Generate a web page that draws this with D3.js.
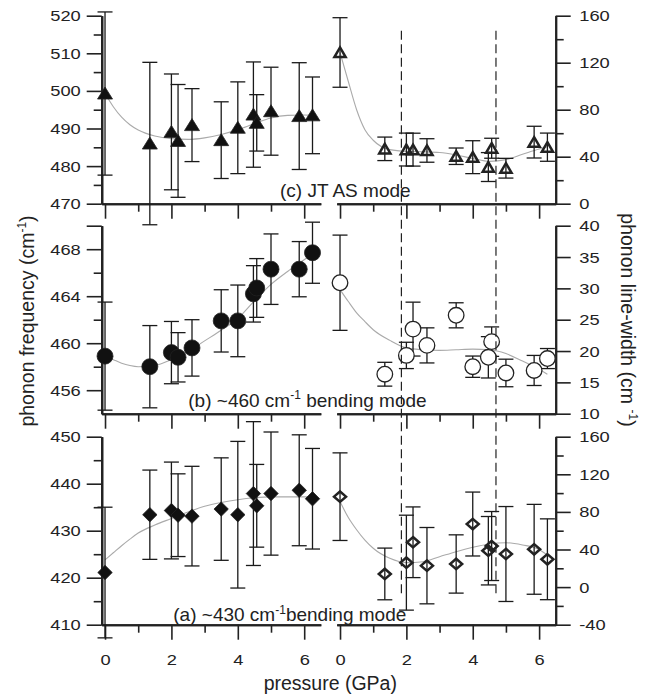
<!DOCTYPE html>
<html>
<head>
<meta charset="utf-8">
<script src="https://cdn.jsdelivr.net/npm/d3@7"></script>
<style>
  body { margin: 0; background: #fff; }
  svg text { font-family: "Liberation Sans", Arial, Helvetica, sans-serif; fill: #222; }
  .tick text { font-size: 15.5px; }
  .tick line { stroke: #222; stroke-width: 1.6; }
  .domain { stroke: #222; stroke-width: 2; }
</style>
</head>
<body>
<div id="chart"></div>
<script>

// pressure of each measurement (GPa), shared by all six series
let pressure = [0, 1.35, 2.0, 2.2, 2.62, 3.5, 4.0, 4.47, 4.57, 5.0, 5.85, 6.25];

// (c) JT AS mode
let jtFreq    = [499.3, 486.0, 489.1, 486.7, 490.9, 486.9, 490.2, 493.7, 491.5, 494.6, 493.3, 493.5];
let jtFreqErr = [21.7, 21.6, 15.4, 15.0, 9.7, 10.2, 12.2, 14.0, 7.5, 11.7, 14.2, 10.2];
let jtWidth    = [128.7, 46.7, 46.1, 46.0, 45.3, 40.4, 39.6, 31.2, 47.2, 30.2, 52.4, 48.1];
let jtWidthErr = [29.6, 10.0, 14.0, 14.0, 10.0, 7.0, 14.0, 12.3, 8.5, 8.4, 13.5, 12.0];

// (b) ~460 cm-1 bending mode
let b460Freq    = [458.9, 458.0, 459.2, 458.8, 459.6, 461.9, 461.9, 464.2, 464.7, 466.3, 466.3, 467.7];
let b460FreqErr = [4.6, 3.5, 2.65, 2.1, 2.4, 2.65, 3.05, 2.4, 2.5, 3.0, 2.35, 2.6];
let b460Width    = [30.9, 16.3, 19.3, 23.5, 20.9, 25.7, 17.5, 19.0, 21.5, 16.5, 16.9, 18.8];
let b460WidthErr = [7.6, 1.9, 2.1, 4.3, 2.8, 2.0, 1.7, 3.3, 2.35, 2.2, 2.4, 1.6];

// (a) ~430 cm-1 bending mode
let b430Freq    = [421.1, 433.4, 434.3, 433.3, 433.1, 434.6, 433.4, 437.9, 435.3, 437.9, 438.6, 436.8];
let b430FreqErr = [13.9, 9.5, 10.3, 8.8, 10.6, 10.9, 15.6, 15.3, 8.8, 13.1, 11.8, 10.7];
let b430Width    = [96.2, 14.0, 26.0, 47.7, 22.8, 24.6, 67.1, 38.7, 43.7, 35.2, 40.2, 29.6];
let b430WidthErr = [46.6, 27.5, 50.5, 37.6, 40.6, 31.0, 34.0, 36.4, 36.7, 50.5, 47.8, 43.0];

// gray guide curves
let fitPressure = [0, 0.25, 0.5, 0.75, 1, 1.5, 2, 2.5, 3, 3.5, 4, 4.5, 5, 5.5, 6, 6.25];
let jtFreqFit    = [499.3, 495.8, 493.0, 491.0, 489.6, 488.0, 487.3, 487.1, 487.5, 488.4, 489.7, 491.3, 492.8, 493.5, 493.6, 493.5];
let jtWidthFit   = [128.7, 104, 80, 63, 54, 46, 44.5, 44.2, 43.6, 41.5, 38.5, 36, 37.5, 42, 46.5, 48.5];
let b460FreqFit  = [458.9, 458.6, 458.3, 458.1, 458.0, 458.1, 458.6, 459.3, 460.2, 461.1, 462.1, 463.6, 465.0, 466.1, 467.1, 467.6];
let b460WidthFit = [29.8, 27.9, 26.1, 24.7, 23.4, 21.7, 20.5, 20.2, 20.1, 20.2, 20.3, 20.2, 19.6, 18.4, 17.1, 16.3];
let b430FreqFit  = [423.8, 425.3, 426.8, 428.2, 429.5, 431.2, 432.6, 434.0, 435.2, 436.0, 436.6, 437.0, 437.2, 437.2, 437.2, 437.2];
let b430WidthFit = [91, 74, 61, 50, 41.3, 30.6, 26, 27, 32.3, 37.7, 42.3, 45.9, 47.2, 44.8, 40, 34];

// phase transition pressures (dashed lines)
let transitions = [1.85, 4.7];

let pressureTicks = [0, 2, 4, 6];
let pressureMinor = [1, 3, 5];

let panels = [
  { freq: jtFreq, freqErr: jtFreqErr, width: jtWidth, widthErr: jtWidthErr,
    freqFit: jtFreqFit, widthFit: jtWidthFit, marker: "triangle",
    freqDomain: [470, 520], freqTicks: [470, 480, 490, 500, 510, 520], freqMinor: [475, 485, 495, 505, 515], freqEnds: [],
    widthDomain: [0, 160], widthTicks: [0, 40, 80, 120, 160], widthMinor: [20, 60, 100, 140],
    label: ["(c) JT AS mode"], labelX: 280, labelY: 197 },
  { freq: b460Freq, freqErr: b460FreqErr, width: b460Width, widthErr: b460WidthErr,
    freqFit: b460FreqFit, widthFit: b460WidthFit, marker: "circle",
    freqDomain: [454, 470], freqTicks: [456, 460, 464, 468], freqMinor: [458, 462, 466], freqEnds: [470],
    widthDomain: [10, 40], widthTicks: [10, 15, 20, 25, 30, 35, 40], widthMinor: [],
    label: ["(b) ~460 cm", "-1", " bending mode"], labelX: 188.3, labelY: 406.7 },
  { freq: b430Freq, freqErr: b430FreqErr, width: b430Width, widthErr: b430WidthErr,
    freqFit: b430FreqFit, widthFit: b430WidthFit, marker: "diamond",
    freqDomain: [410, 450], freqTicks: [410, 420, 430, 440, 450], freqMinor: [415, 425, 435, 445], freqEnds: [],
    widthDomain: [-40, 160], widthTicks: [-40, 0, 40, 80, 120, 160], widthMinor: [-20, 20, 60, 100, 140],
    label: ["(a) ~430 cm", "-1", "bending mode"], labelX: 173.3, labelY: 621 }
];

let width = 650, height = 700;
let panelTop = [15.7, 225.7, 436.7];
let panelH = 188;
let stretchX = 1.18;   // tick labels in the original are a little wide

let xLeft = d3.scaleLinear().domain([-0.1, 6.5]).range([101.7, 320.8]);
let xRight = d3.scaleLinear().domain([-0.1, 6.5]).range([336.7, 555.7]);

const svg = d3.select("#chart").append("svg")
  .attr("width", width)
  .attr("height", height)
  .style("background", "#fff");

function widen(g) {
  g.attr("font-size", null).attr("font-family", null);
  g.selectAll(".tick text")
    .attr("transform", `scale(${stretchX},1)`)
    .attr("x", function() { return +d3.select(this).attr("x") / stretchX; });
}

const markerPath = {
  triangle: { filled: "M0,-6.5L7.5,5.5L-7.5,5.5Z", open: "M0,-5L5.6,4.6L-5.6,4.6Z" },
  diamond:  { filled: "M0,-7.2L7.2,0L0,7.2L-7.2,0Z", open: "M0,-5.2L6,0L0,5.2L-6,0Z" }
};

function drawSeries(g, x, y, values, errs, type, open) {
  const pts = pressure.map((p, i) => ({ p, v: values[i], e: errs[i] }));
  const eb = g.append("g").attr("stroke", "#1a1a1a").attr("stroke-width", 1.3);
  pts.forEach(d => {
    const cx = x(d.p);
    eb.append("line").attr("x1", cx).attr("x2", cx).attr("y1", y(d.v + d.e)).attr("y2", y(d.v - d.e));
    eb.append("line").attr("x1", cx - 7.5).attr("x2", cx + 7.5).attr("y1", y(d.v + d.e)).attr("y2", y(d.v + d.e));
    eb.append("line").attr("x1", cx - 7.5).attr("x2", cx + 7.5).attr("y1", y(d.v - d.e)).attr("y2", y(d.v - d.e));
  });
  const m = g.append("g");
  if (type === "circle") {
    m.selectAll("circle").data(pts).join("circle")
      .attr("cx", d => x(d.p)).attr("cy", d => y(d.v))
      .attr("r", open ? 7.8 : 8)
      .attr("fill", open ? "#fff" : "#111")
      .attr("stroke", "#222").attr("stroke-width", open ? 1.3 : 0.8);
  } else {
    m.selectAll("path").data(pts).join("path")
      .attr("transform", d => `translate(${x(d.p)},${y(d.v)})`)
      .attr("d", open ? markerPath[type].open : markerPath[type].filled)
      .attr("fill", open ? "none" : "#111")
      .attr("stroke", "#222")
      .attr("stroke-width", open ? 2.5 : 0.8)
      .attr("stroke-linejoin", "miter");
  }
}

function drawFit(g, x, y, values) {
  const line = d3.line().x(d => x(d[0])).y(d => y(d[1])).curve(d3.curveMonotoneX);
  g.append("path")
    .attr("d", line(fitPressure.map((p, i) => [p, values[i]])))
    .attr("fill", "none").attr("stroke", "#aaa").attr("stroke-width", 1.1);
}

panels.forEach((pn, i) => {
  const top = panelTop[i], bottom = top + panelH;
  const yL = d3.scaleLinear().domain(pn.freqDomain).range([bottom, top]);
  const yR = d3.scaleLinear().domain(pn.widthDomain).range([bottom, top]);
  const g = svg.append("g");

  // bottom axes, both halves
  [xLeft, xRight].forEach(x => {
    g.append("g").attr("transform", `translate(0,${bottom})`)
      .call(d3.axisBottom(x).tickValues(pressureMinor).tickSize(8).tickSizeOuter(0).tickFormat(""));
    const ax = g.append("g").attr("transform", `translate(0,${bottom})`)
      .call(d3.axisBottom(x).tickValues(pressureTicks).tickSize(15).tickSizeOuter(0).tickPadding(14.5)
        .tickFormat(i === 2 ? d => String(d) : ""));
    widen(ax);
  });

  // left axis (frequency)
  const x0 = xLeft.range()[0];
  g.append("g").attr("transform", `translate(${x0},0)`)
    .call(d3.axisLeft(yL).tickValues(pn.freqMinor).tickSize(8).tickSizeOuter(0).tickFormat(""));
  g.append("g").attr("transform", `translate(${x0},0)`)
    .call(d3.axisLeft(yL).tickValues(pn.freqEnds).tickSize(15).tickSizeOuter(0).tickFormat(""));
  widen(g.append("g").attr("transform", `translate(${x0},0)`)
    .call(d3.axisLeft(yL).tickValues(pn.freqTicks).tickSize(15).tickSizeOuter(0).tickPadding(6)
      .tickFormat(d => String(d))));

  // right axis (line-width)
  const x1 = xRight.range()[1];
  g.append("g").attr("transform", `translate(${x1},0)`)
    .call(d3.axisRight(yR).tickValues(pn.widthMinor).tickSize(8).tickSizeOuter(0).tickFormat(""));
  widen(g.append("g").attr("transform", `translate(${x1},0)`)
    .call(d3.axisRight(yR).tickValues(pn.widthTicks).tickSize(15).tickSizeOuter(0).tickPadding(8.6)
      .tickFormat(d => String(d))));

  drawFit(g, xLeft, yL, pn.freqFit);
  drawFit(g, xRight, yR, pn.widthFit);
  drawSeries(g, xLeft, yL, pn.freq, pn.freqErr, pn.marker, false);
  drawSeries(g, xRight, yR, pn.width, pn.widthErr, pn.marker, true);

  // panel label
  const t = g.append("text").attr("x", pn.labelX).attr("y", pn.labelY).attr("font-size", 19);
  t.append("tspan").text(pn.label[0]);
  if (pn.label.length > 1) {
    t.append("tspan").attr("dy", -7.5).attr("font-size", 12).text(pn.label[1]);
    t.append("tspan").attr("dy", 7.5).text(pn.label[2]);
  }
});

// dashed transition lines across the right-hand column
svg.append("g")
  .selectAll("line").data(transitions).join("line")
  .attr("x1", d => xRight(d)).attr("x2", d => xRight(d))
  .attr("y1", 30.7).attr("y2", 597)
  .attr("stroke", "#222").attr("stroke-width", 1.2).attr("stroke-dasharray", "9,4.5");

// axis titles
svg.append("text")
  .attr("x", 330.3).attr("y", 690)
  .attr("text-anchor", "middle").attr("font-size", 19.5)
  .text("pressure (GPa)");

const lt = svg.append("text")
  .attr("transform", "translate(34,321) rotate(-90)")
  .attr("text-anchor", "middle").attr("font-size", 19.5);
lt.append("tspan").text("phonon frequency (cm");
lt.append("tspan").attr("dy", -8).attr("font-size", 12).text("-1");
lt.append("tspan").attr("dy", 8).text(")");

const rt = svg.append("text")
  .attr("transform", "translate(621,320) rotate(90)")
  .attr("text-anchor", "middle").attr("font-size", 19.5);
rt.append("tspan").text("phonon line-width (cm ");
rt.append("tspan").attr("dy", -8).attr("font-size", 12).text("-1");
rt.append("tspan").attr("dy", 8).text(")");

</script>
</body>
</html>
